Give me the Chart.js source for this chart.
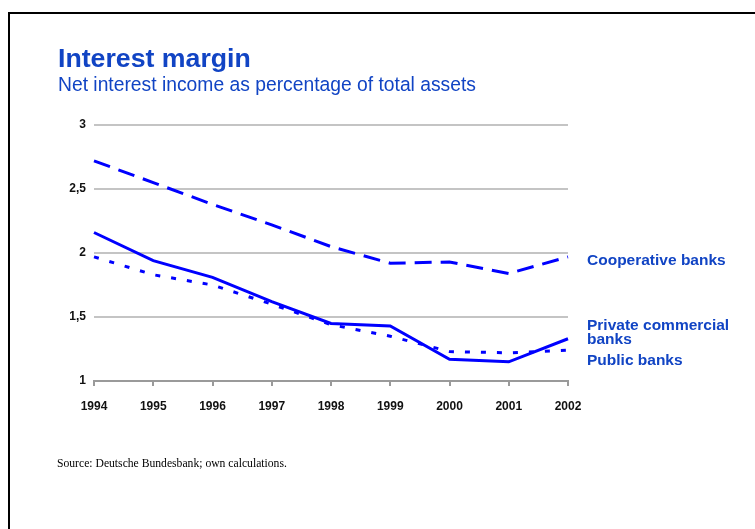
<!DOCTYPE html>
<html>
<head>
<meta charset="utf-8">
<script src="https://cdn.jsdelivr.net/npm/chart.js@4"></script>
<style>
    body { margin: 0; background: #fff; width: 755px; height: 529px; overflow: hidden; position: relative; }
    #frame { position: absolute; left: 8px; top: 12px; width: 800px; height: 600px;
             border-left: 2px solid #000; border-top: 2px solid #000; }
    #chart { position: absolute; left: 0; top: 0; }
    .txt { position: absolute; white-space: nowrap; font-family: "Liberation Sans", Arial, sans-serif; color: #1144c4; }
    #title { left: 58px; top: 45px; font-size: 26.7px; line-height: 26.7px; font-weight: bold; }
    #subtitle { left: 58px; top: 75.4px; font-size: 19.3px; line-height: 19.3px; }
    .series { left: 587px; font-size: 15.5px; line-height: 14px; font-weight: bold; }
    #source { position: absolute; left: 57px; top: 458px; font-family: "Liberation Serif", "Times New Roman", serif;
              font-size: 11.65px; line-height: 11px; color: #000; white-space: nowrap; }
</style>
</head>
<body>
<div id="frame"></div>
<canvas id="chart" width="755" height="529"></canvas>
<div class="txt" id="title">Interest margin</div>
<div class="txt" id="subtitle">Net interest income as percentage of total assets</div>
<div class="txt series" style="top:253px">Cooperative banks</div>
<div class="txt series" style="top:318px">Private commercial<br>banks</div>
<div class="txt series" style="top:353px">Public banks</div>
<div id="source">Source: Deutsche Bundesbank; own calculations.</div>

<script>
// Zinsmarge nach Bankengruppe, in % der Bilanzsumme
const years = ['1994', '1995', '1996', '1997', '1998', '1999', '2000', '2001', '2002'];
const cooperativeBanks = [2.72, 2.55, 2.38, 2.22, 2.05, 1.92, 1.93, 1.84, 1.97];
const privateBanks = [2.16, 1.94, 1.81, 1.62, 1.45, 1.43, 1.17, 1.15, 1.33];
const publicBanks = [1.97, 1.83, 1.75, 1.60, 1.44, 1.35, 1.23, 1.22, 1.24];

// Beschriftung der y-Achse mit Dezimalkomma
const yTickLabels = { 1: '1', 1.5: '1,5', 2: '2', 2.5: '2,5', 3: '3' };

const lineBlue = '#0000ff';
const tickFont = { family: 'Liberation Sans', size: 12, weight: 'bold' };

const ctx = document.getElementById('chart').getContext('2d');

const chart = new Chart(ctx, {
    type: 'line',
    data: {
        labels: years,
        datasets: [
            {
                label: 'Private commercial banks',
                data: privateBanks,
                borderColor: lineBlue,
                borderWidth: 3
            },
            {
                label: 'Cooperative banks',
                data: cooperativeBanks,
                borderColor: lineBlue,
                borderWidth: 3,
                borderDash: [17, 9]
            },
            {
                label: 'Public banks',
                data: publicBanks,
                borderColor: lineBlue,
                borderWidth: 3,
                borderDash: [5, 11]
            }
        ]
    },
    options: {
        responsive: false,
        animation: false,
        layout: {
            padding: { top: 125, right: 187, bottom: 118, left: 0 }
        },
        elements: {
            point: { radius: 0 },
            line: { tension: 0, fill: false, borderCapStyle: 'butt' }
        },
        plugins: {
            legend: { display: false },
            tooltip: { enabled: false }
        },
        scales: {
            x: {
                offset: false,
                grid: {
                    drawOnChartArea: false,
                    drawTicks: true,
                    tickLength: 5,
                    color: '#9a9a9a',
                    lineWidth: 2
                },
                border: { display: true, color: '#9a9a9a', width: 2 },
                ticks: {
                    color: '#111',
                    font: tickFont,
                    padding: 13,
                    maxRotation: 0,
                    autoSkip: false
                },
                afterFit: function(scale) { scale.height = 30; }
            },
            y: {
                min: 1,
                max: 3,
                grid: {
                    color: '#c4c4c4',
                    lineWidth: 2,
                    drawTicks: false
                },
                border: { display: false },
                ticks: {
                    stepSize: 0.5,
                    color: '#111',
                    font: tickFont,
                    padding: 8,
                    callback: function(value) {
                        return yTickLabels[value];
                    }
                },
                afterFit: function(scale) { scale.width = 94; }
            }
        }
    }
});
</script>
</body>
</html>
